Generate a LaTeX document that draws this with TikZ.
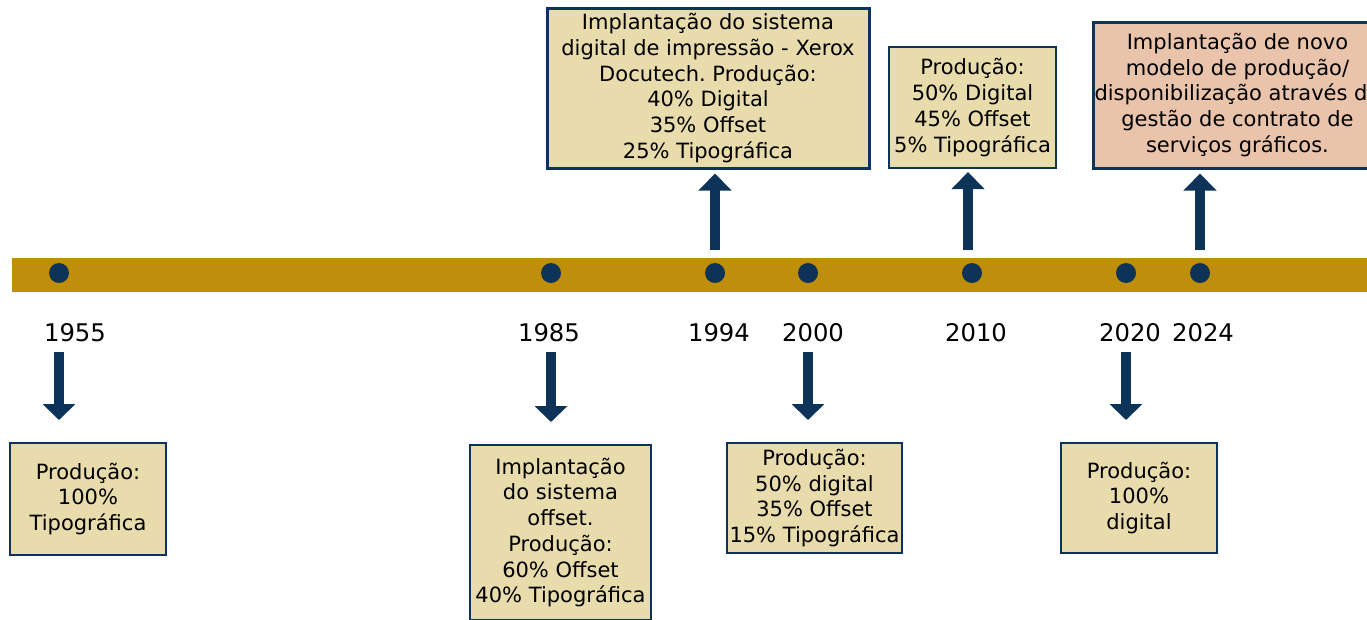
\documentclass[tikz,border=0pt]{standalone}
\usepackage{fontspec}
\setmainfont{DejaVu Sans}
\usetikzlibrary{arrows.meta}
\definecolor{navy}{HTML}{0D3458}
\definecolor{gold}{HTML}{BF8F0B}
\definecolor{tan}{HTML}{E8DBAC}
\definecolor{salmon}{HTML}{E9C4AB}
\frenchspacing
\begin{document}
\begin{tikzpicture}[x=1pt, y=-1pt,
        every node/.style={font=\fontsize{21}{25.7}\selectfont},
        box/.style={draw=navy, line width=2pt, fill=tan, align=center, inner sep=1pt},
        year/.style={font=\fontsize{24.3}{28}\selectfont, inner sep=0pt},
        dot/.style={circle, fill=navy, minimum size=20pt, inner sep=0pt},
        downarr/.style={draw=navy, line width=10.5pt, -{Triangle[width=32pt,length=16pt]}, shorten >=22pt},
        uparr/.style={draw=navy, line width=10.5pt, -{Triangle[width=32pt,length=17pt]}, shorten >=4pt}]
        \useasboundingbox (0,0) rectangle (1367,619);
        \clip (0,0) rectangle (1367,619);

        \fill[gold] (12,258) rectangle (1367,292);

        \node[dot] (d1955) at (59,273) {};
        \node[dot] (d1985) at (551,273) {};
        \node[dot] (d1994) at (715,273) {};
        \node[dot] (d2000) at (808,273) {};
        \node[dot] (d2010) at (972,273) {};
        \node[dot] (d2020) at (1126,273) {};
        \node[dot] (d2024) at (1200,273) {};

        \node[year] (y1955) at (75,333) {1955};
        \node[year] (y1985) at (549,333) {1985};
        \node[year] (y1994) at (719,333) {1994};
        \node[year] (y2000) at (813,333) {2000};
        \node[year] (y2010) at (976,333) {2010};
        \node[year] (y2020) at (1130,333) {2020};
        \node[year] (y2024) at (1203,333) {2024};

        \node[box, minimum width=156pt, minimum height=112pt] (b1955) at (88,499)
            {Produção:\\100\%\\Tipográfica};
        \node[box, minimum width=181pt, minimum height=175pt] (b1985) at (560.5,532.5)
            {Implantação\\do sistema\\offset.\\Produção:\\60\% Offset\\40\% Tipográfica};
        \node[box, minimum width=175pt, minimum height=110pt] (b2000) at (814.5,498)
            {Produção:\\50\% digital\\35\% Offset\\15\% Tipográfica};
        \node[box, minimum width=156pt, minimum height=110pt] (b2020) at (1139,498)
            {Produção:\\100\%\\digital};
        \node[box, line width=3pt, minimum width=322pt, minimum height=160pt] (b1994) at (708,88)
            {Implantação do sistema\\digital de impressão - Xerox\\Docutech. Produção:\\40\% Digital\\35\% Offset\\25\% Tipográfica};
        \node[box, minimum width=167pt, minimum height=121pt] (b2010) at (972.5,107.5)
            {Produção:\\50\% Digital\\45\% Offset\\5\% Tipográfica};
        \node[box, line width=3pt, fill=salmon, minimum width=280pt, minimum height=146pt, anchor=west] (b2024) at (1092,95)
            {Implantação de novo\\modelo de produção/\\disponibilização através de\\gestão de contrato de\\serviços gráficos.};

        \draw[downarr] (d1955 |- 0,352) -- (d1955 |- b1955.north);
        \draw[downarr] (d1985 |- 0,352) -- (d1985 |- b1985.north);
        \draw[downarr] (d2000 |- 0,352) -- (d2000 |- b2000.north);
        \draw[downarr] (d2020 |- 0,352) -- (d2020 |- b2020.north);

        \draw[uparr] (d1994 |- 0,250) -- (d1994 |- b1994.south);
        \draw[uparr] (968,250) -- (968,168);
        \draw[uparr] (d2024 |- 0,250) -- (d2024 |- b2024.south);
\end{tikzpicture}
\end{document}
